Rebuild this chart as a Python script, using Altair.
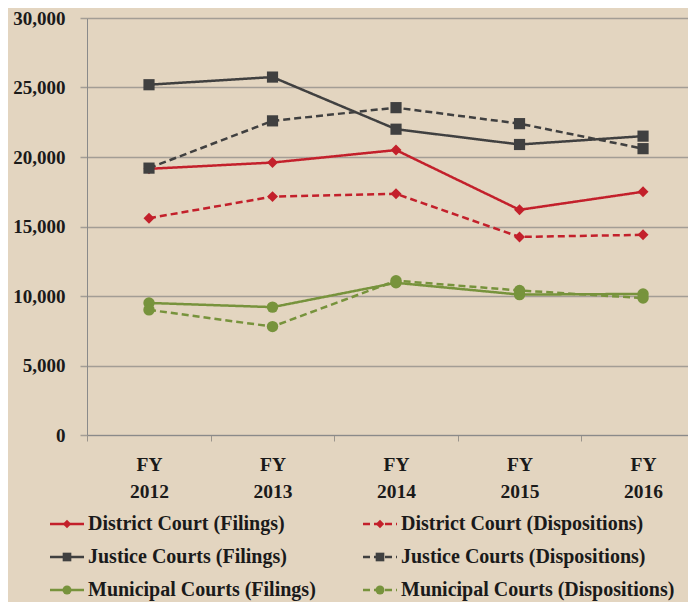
import altair as alt
import pandas as pd

years = [2012, 2013, 2014, 2015, 2016]
district_filings = [19150, 19600, 20500, 16200, 17500]
district_dispositions = [15600, 17150, 17350, 14250, 14400]
justice_filings = [25200, 25750, 22000, 20900, 21500]
justice_dispositions = [19200, 22600, 23550, 22400, 20600]
municipal_filings = [9500, 9200, 10950, 10100, 10150]
municipal_dispositions = [9000, 7800, 11100, 10400, 9850]

courts = ["District Court", "Justice Courts", "Municipal Courts"]
kinds = ["Filings", "Dispositions"]
court_colors = ["#c3202b", "#404040", "#77933c"]
court_shapes = ["diamond", "square", "circle"]
y_ticks = [0, 5000, 10000, 15000, 20000, 25000, 30000]

series = [
    ("District Court", "Filings", district_filings),
    ("District Court", "Dispositions", district_dispositions),
    ("Justice Courts", "Filings", justice_filings),
    ("Justice Courts", "Dispositions", justice_dispositions),
    ("Municipal Courts", "Filings", municipal_filings),
    ("Municipal Courts", "Dispositions", municipal_dispositions),
]

rows = []
legend_rows = []
for court, kind, vals in series:
    name = f"{court} ({kind})"
    for yr, v in zip(years, vals):
        rows.append({"court": court, "kind": kind, "series": name, "year": yr, "value": v})
    legend_rows.append({"court": court, "kind": kind, "label": name,
                        "col": kinds.index(kind), "row": courts.index(court)})
df = pd.DataFrame(rows)
ldf = pd.DataFrame(legend_rows)

BG = "#e3d5c0"
FONT = "Liberation Serif"

color = alt.Color("court:N", scale=alt.Scale(domain=courts, range=court_colors), legend=None)
dash = alt.StrokeDash("kind:N", scale=alt.Scale(domain=kinds, range=[[1, 0], [7, 4]]), legend=None)
shape = alt.Shape("court:N", scale=alt.Scale(domain=courts, range=court_shapes), legend=None)
size = alt.Size("court:N", scale=alt.Scale(domain=courts, range=[120, 130, 115]), legend=None)

xscale = alt.Scale(domain=[2011.498, 2016.364], nice=False, zero=False)
yscale = alt.Scale(domain=[0, 30000], nice=False)

x_axis = alt.Axis(values=years, labelExpr="['FY', format(datum.value, 'd')]",
                  tickOffset=-61.75, labelOffset=61.75, tickSize=6, tickColor="#9a948c",
                  labelPadding=14, labelLineHeight=27, labelFont=FONT, labelFontSize=19.5,
                  labelFontWeight="bold", labelColor="#1a1a1a", domainColor="#8a8a8a",
                  grid=False, title=None, labelBaseline="top")
y_axis = alt.Axis(values=y_ticks, labelExpr="format(datum.value, ',')", tickSize=7,
                  tickColor="#a39d95", tickWidth=1.5,
                  labelPadding=15, labelFont=FONT, labelFontSize=19, labelFontWeight="bold",
                  labelColor="#1a1a1a", domainColor="#8a8a8a", grid=True,
                  gridColor="#a39d95", gridWidth=1.5, title=None)

lines = alt.Chart(df).mark_line(strokeWidth=2.5).encode(
    x=alt.X("year:Q", scale=xscale, axis=x_axis),
    y=alt.Y("value:Q", scale=yscale, axis=y_axis),
    color=color, strokeDash=dash, detail="series:N",
)
points = alt.Chart(df).mark_point(filled=True, opacity=1).encode(
    x=alt.X("year:Q", scale=xscale),
    y=alt.Y("value:Q", scale=yscale),
    color=color, shape=shape, size=size,
)
main = alt.layer(lines, points)

lx = alt.X("col:Q", scale=alt.Scale(domain=[0, 1], range=[-37, 276], nice=False, zero=False), axis=None)
ly = alt.Y("row:Q", scale=alt.Scale(domain=[0, 2], range=[506, 572], nice=False, zero=False), axis=None)

leg_base = alt.Chart(ldf)
leg_rule = leg_base.mark_rule(strokeWidth=2.5).transform_calculate(
    col_end="datum.col + 34/313"
).encode(x=lx, x2="col_end:Q", y=ly, color=color, strokeDash=dash)
leg_pt = leg_base.mark_point(filled=True, opacity=1, xOffset=17).encode(
    x=lx, y=ly, color=color, shape=shape,
    size=alt.Size("court:N", scale=alt.Scale(domain=courts, range=[70, 80, 75]), legend=None),
)
leg_txt = leg_base.mark_text(align="left", baseline="middle", dx=38, font=FONT, fontSize=20,
                             fontWeight="bold", color="#1a1a1a").encode(x=lx, y=ly, text="label:N")
legend = alt.layer(leg_rule, leg_pt, leg_txt)

chart = alt.layer(main, legend).resolve_scale(
    x="independent", y="independent", size="independent"
).properties(
    width=601, height=417, background=BG,
    padding={"left": 79, "top": 10, "right": 0, "bottom": 167},
    autosize=alt.AutoSizeParams(type="none"),
).configure_view(stroke=None)

chart.save("out.html", embed_options={"renderer": "svg", "actions": False})
